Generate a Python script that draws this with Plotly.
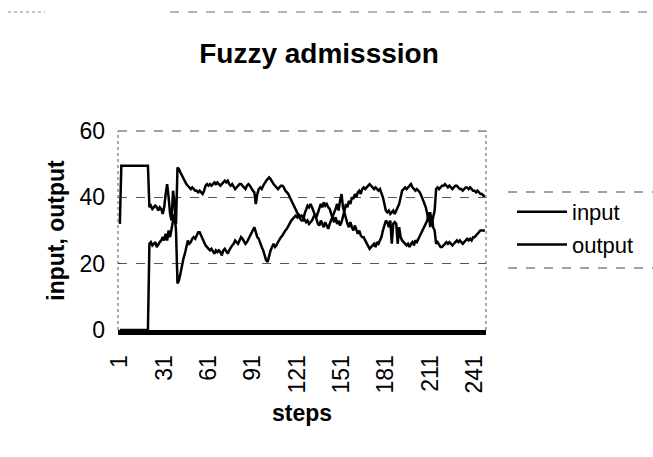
import plotly.graph_objects as go

# Simulation steps (category axis 1..248)
steps = list(range(1, 249))

# Input signal per step
input_vals = [
    32, 49.5, 49.5, 49.5, 49.5, 49.5, 49.5, 49.5, 49.5, 49.5,
    49.5, 49.5, 49.5, 49.5, 49.5, 49.5, 49.5, 49.5, 49.5, 49.5,
    # 21-40
    37, 37.5, 36.5, 37, 37.5, 37, 36, 37, 36.5, 35,
    37, 41, 44, 40, 35, 33, 42, 38, 32, 49,
    # 41-83
    48.5, 47.5, 46.5, 45.5, 44.5, 44, 43.5, 43, 42.5, 43,
    42.5, 42, 42, 41.5, 42, 41.5, 41, 42, 43.5, 44,
    43.5, 44, 43.5, 44, 44.5, 44, 44.5, 44, 43.5, 44,
    44.5, 45, 44.5, 45, 44, 43.5, 44, 43, 42.5, 43,
    43.5, 44, 44,
    # 84-124
    43.5, 43, 42.5, 43.5, 44, 43.5, 42.5, 42, 41.5, 38,
    41, 42.5, 43, 42.5, 43.5, 44.5, 45, 45.5, 46, 45.5,
    44.5, 44, 43.5, 43, 42.5, 43, 43.5, 43.5, 43, 42,
    41.5, 41, 40, 39, 38, 37, 36, 35, 34, 33.5,
    33,
    # 125-165
    33, 35, 36.5, 37.5, 37, 38, 37, 36, 35, 33.5,
    32, 31.5, 33, 32, 31, 32.5, 31.5, 30.5, 32, 33,
    34, 35, 36.5, 38, 36, 39, 41, 37, 35, 33,
    32, 31, 32.5, 31, 30, 31.5, 30.5, 29, 30, 28.5,
    28,
    # 166-180
    28, 27, 26, 25, 24.5, 25, 25.5, 26, 25, 26.5,
    26, 27, 28, 30, 32,
    # 181-190
    33, 32.5, 31, 33, 26, 32, 32.5, 32, 26, 31,
    # 191-208
    28, 27, 26.5, 26, 25.5, 26, 25, 26, 26.5, 25.5,
    27, 26.5, 27.5, 28, 29, 30, 31, 32,
    # 209-214
    33, 35.5, 31, 34.5, 31, 30,
    # 215-248
    26, 26.5, 25.5, 25, 25, 25.5, 26, 26.5, 26, 26.5,
    26, 25.5, 26, 26.5, 27, 26.5, 27, 26.5, 26, 26.5,
    27, 27.5, 27, 27.5, 27, 28, 28, 28.5, 29, 29.5,
    30, 30, 30, 30,
]

# Output signal per step
output_vals = [
    0, 0, 0, 0, 0, 0, 0, 0, 0, 0,
    0, 0, 0, 0, 0, 0, 0, 0, 0, 0,
    # 21-40
    26, 26.5, 25.5, 26, 26.5, 25, 26, 26.5, 27, 28,
    27, 29, 27, 30, 28, 31, 33, 35, 30, 14,
    # 41-83
    15, 17, 20, 21.5, 23, 25, 27, 26, 26.5, 27.5,
    28, 27.5, 28.5, 29.5, 29.5, 28.5, 27, 26, 25.5, 25,
    24.5, 24, 24.5, 23.5, 23, 24, 23.5, 24, 23.5, 22.5,
    24, 24.5, 23.5, 23, 24, 25, 25.5, 26, 27, 26.5,
    26, 27, 28,
    # 84-124
    27.5, 26.5, 26, 26.5, 27.5, 28.5, 29, 30, 31, 29.5,
    28, 27.5, 26, 25, 24, 22.5, 21, 20.5, 22.5, 24,
    25, 26, 25, 25.5, 26.5, 27.5, 28, 28.5, 29.5, 30,
    30.5, 31.5, 32.5, 33, 33.5, 34, 34.5, 34, 35, 34,
    34.5,
    # 125-165
    34, 33, 32.5, 33, 32, 32.5, 33, 34, 35, 34,
    35.5, 37, 38, 37, 38.5, 37.5, 38, 37, 36.5, 35,
    33.5, 32.5, 34, 32, 33, 31.5, 32.5, 34, 36, 38,
    37, 39, 38, 40, 39.5, 41, 40, 41.5, 42, 41,
    42.5,
    # 166-180
    43, 42.5, 43, 43.5, 44, 43.5, 43, 42.5, 43, 42.5,
    42, 42.5, 41.5, 40, 38,
    # 181-190
    36, 35.5, 36, 35, 35.5, 36, 35, 36, 36.5, 38,
    # 191-208
    40, 42, 42.5, 43, 42.5, 43, 43.5, 44, 43, 42.5,
    42, 42.5, 42, 41.5, 40.5, 39.5, 38.5, 37,
    # 209-214
    35, 33, 35.5, 32, 34, 36,
    # 215-248
    42.5, 43, 42.5, 43, 43.5, 43.5, 44, 43.5, 43, 43.5,
    43, 42.5, 43, 43.5, 43.5, 43, 42.5, 42.5, 42, 42.5,
    43, 43, 42.5, 43, 42.5, 42, 42, 41.5, 42, 41.5,
    41, 41, 40.5, 40.5,
]

x_tick_vals = [1, 31, 61, 91, 121, 151, 181, 211, 241]
x_tick_text = ["1", "31", "61", "91", "121", "151", "181", "211", "241"]
y_tick_vals = [0, 20, 40, 60]

FONT = "Arial, Liberation Sans, sans-serif"

fig = go.Figure()
fig.add_trace(go.Scatter(x=steps, y=input_vals, mode="lines", name="input",
                         legendgroup="a",
                         line=dict(color="black", width=2.5)))
fig.add_trace(go.Scatter(x=steps, y=output_vals, mode="lines", name="output",
                         legendgroup="b",
                         line=dict(color="black", width=2.5)))

L, R, T, B = 118, 167, 131, 127
W, H = 653, 457
pw = W - L - R
ph = H - T - B


def px_x(p):
    return (p - L) / pw


def px_y(p):
    return (H - B - p) / ph


shapes = [
    # plot frame (top, right, left)
    dict(type="line", xref="paper", yref="paper", x0=0, x1=1, y0=1, y1=1,
         line=dict(color="#444", width=1, dash="dash")),
    dict(type="line", xref="paper", yref="paper", x0=1, x1=1, y0=0, y1=1,
         line=dict(color="#555", width=1, dash="dot")),
    dict(type="line", xref="paper", yref="paper", x0=0, x1=0, y0=0, y1=1,
         line=dict(color="#555", width=1, dash="dot")),
    # outer chart border at the top
    dict(type="line", xref="paper", yref="paper", x0=px_x(170), x1=px_x(653),
         y0=px_y(12), y1=px_y(12), line=dict(color="#666", width=1, dash="dash")),
    dict(type="line", xref="paper", yref="paper", x0=px_x(8), x1=px_x(45),
         y0=px_y(12), y1=px_y(12), line=dict(color="#888", width=1, dash="dot")),
    # legend box edges
    dict(type="line", xref="paper", yref="paper", x0=px_x(508), x1=px_x(653),
         y0=px_y(192), y1=px_y(192), line=dict(color="#444", width=1, dash="dash")),
    dict(type="line", xref="paper", yref="paper", x0=px_x(508), x1=px_x(653),
         y0=px_y(268), y1=px_y(268), line=dict(color="#444", width=1, dash="dash")),
]

fig.update_layout(
    width=W, height=H,
    margin=dict(l=L, r=R, t=T, b=B),
    paper_bgcolor="white", plot_bgcolor="white",
    font=dict(family=FONT, color="black", size=22),
    title=dict(text="<b>Fuzzy admisssion</b>", x=319 / W, xanchor="center",
               y=1 - 53 / H, yanchor="middle",
               font=dict(family=FONT, size=28, color="black")),
    showlegend=True,
    legend=dict(x=px_x(512), xanchor="left", y=px_y(191), yanchor="top",
                bgcolor="rgba(0,0,0,0)", borderwidth=0,
                font=dict(family=FONT, size=22, color="black"),
                itemwidth=50, tracegroupgap=1),
    shapes=shapes,
    xaxis=dict(
        range=[-0.25, 248.75], tickmode="array",
        tickvals=x_tick_vals, ticktext=x_tick_text, tickangle=-90,
        ticks="", ticklabelstandoff=11,
        showgrid=False, zeroline=False,
        # dense per-step tick marks merge into a solid band below the axis
        showline=True, linecolor="black", linewidth=5,
        tickfont=dict(family=FONT, size=23, color="black"),
        title=dict(text="<b>steps</b>", standoff=14,
                   font=dict(family=FONT, size=23, color="black")),
    ),
    yaxis=dict(
        range=[0, 60], tickmode="array", tickvals=y_tick_vals,
        ticks="inside", ticklen=3, tickcolor="#333",
        showgrid=True, gridcolor="#555", gridwidth=1, griddash="dash",
        zeroline=False, showline=False,
        ticklabelstandoff=12,
        tickfont=dict(family=FONT, size=23, color="black"),
        title=dict(text="<b>input, output</b>", standoff=8,
                   font=dict(family=FONT, size=23, color="black")),
    ),
)

fig.write_html("out.html")
